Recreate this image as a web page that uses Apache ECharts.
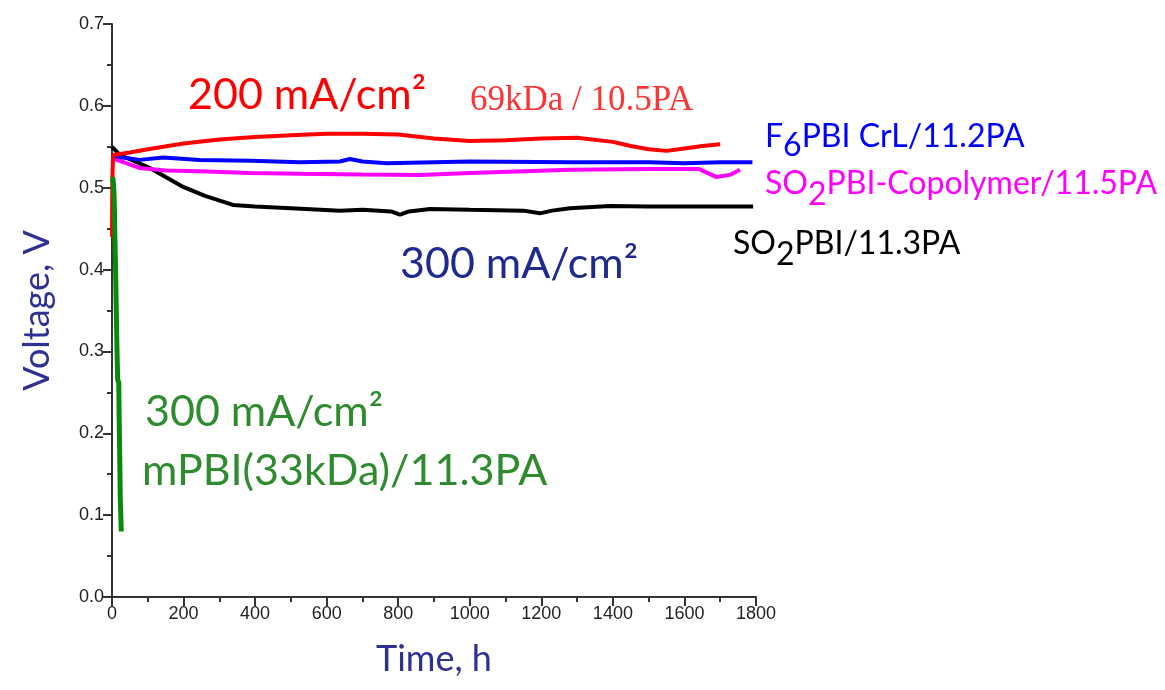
<!DOCTYPE html>
<html>
<head>
<meta charset="utf-8">
<script src="https://cdn.jsdelivr.net/npm/echarts@6/dist/echarts.min.js"></script>
<style>
  html, body { margin: 0; padding: 0; background: #fff; }
  #chart { width: 1165px; height: 690px; }
</style>
</head>
<body>
<div id="chart"></div>
<script>
// Durability runs: cell voltage (V) versus time (h)
const xTicks = [0, 200, 400, 600, 800, 1000, 1200, 1400, 1600, 1800];
const yTicks = [0.0, 0.1, 0.2, 0.3, 0.4, 0.5, 0.6, 0.7];

// 69kDa / 10.5PA at 200 mA/cm²
const redTime = [0, 1, 3, 50, 100, 200, 300, 400, 500, 600, 700, 800, 900, 1000, 1100, 1200, 1300, 1400, 1450, 1500, 1550, 1600, 1650, 1700];
const redVolt = [0.44, 0.51, 0.540, 0.543, 0.547, 0.554, 0.559, 0.562, 0.564, 0.566, 0.566, 0.565, 0.560, 0.557, 0.558, 0.560, 0.561, 0.556, 0.551, 0.547, 0.545, 0.548, 0.551, 0.553];

// F6PBI CrL / 11.2PA
const blueTime = [0, 30, 78, 143, 246, 386, 525, 637, 665, 700, 768, 1000, 1280, 1500, 1600, 1700, 1790];
const blueVolt = [0.540, 0.537, 0.534, 0.537, 0.534, 0.533, 0.531, 0.532, 0.535, 0.532, 0.530, 0.532, 0.531, 0.531, 0.530, 0.531, 0.531];

// SO2PBI-Copolymer / 11.5PA
const magentaTime = [0, 40, 78, 150, 246, 386, 525, 700, 861, 1000, 1280, 1500, 1640, 1690, 1730, 1755];
const magentaVolt = [0.536, 0.530, 0.524, 0.521, 0.520, 0.518, 0.517, 0.516, 0.5155, 0.518, 0.522, 0.523, 0.523, 0.513, 0.516, 0.522];

// SO2PBI / 11.3PA
const blackTime = [0, 22, 60, 106, 150, 199, 260, 338, 400, 500, 637, 700, 780, 805, 830, 889, 1000, 1150, 1196, 1230, 1280, 1392, 1500, 1600, 1792];
const blackVolt = [0.550, 0.540, 0.533, 0.524, 0.513, 0.501, 0.490, 0.479, 0.477, 0.475, 0.472, 0.473, 0.471, 0.467, 0.471, 0.474, 0.473, 0.472, 0.4687, 0.472, 0.475, 0.4776, 0.477, 0.477, 0.477];

// mPBI(33kDa) / 11.3PA at 300 mA/cm²
const greenTime = [2, 4, 6, 8, 10, 12, 14, 16, 19, 20, 22, 23, 25, 26];
const greenVolt = [0.513, 0.505, 0.49, 0.44, 0.40, 0.35, 0.30, 0.265, 0.262, 0.22, 0.16, 0.122, 0.12, 0.08];

const zip = (xs, ys) => xs.map((x, i) => [x, ys[i]]);

const font = 'Lato, "Open Sans", sans-serif';
const tickFont = '"Liberation Sans", Arial, sans-serif';
const chart = echarts.init(document.getElementById('chart'), null, { renderer: 'canvas' });

function line(name, xs, ys, color, width) {
  return {
    name, type: 'line', data: zip(xs, ys), showSymbol: false, symbol: 'none',
    lineStyle: { color, width }, clip: true, animation: false, z: 3
  };
}

// label with a lowered (subscript-style) token
function subLabel(x, y, pre, sub, post, color, size, drop) {
  const base = { fontSize: size, fontFamily: font, fill: color, verticalAlign: 'top' };
  return {
    type: 'text', x, y,
    style: {
      text: `{m|${pre}}{s|${sub}}{m|${post}}`, fill: color, font: size + 'px ' + font,
      rich: { m: base, s: Object.assign({}, base, { padding: [drop, 0, 0, 0] }) }
    }
  };
}

const axisCommon = {
  axisLine: { show: true, lineStyle: { color: '#333', width: 2 } },
  axisTick: { show: true, length: 9, lineStyle: { color: '#333', width: 2 } },
  minorTick: { show: true, splitNumber: 2, length: 5, lineStyle: { color: '#333', width: 2 } },
  splitLine: { show: false },
  minorSplitLine: { show: false }
};

chart.setOption({
  animation: false,
  backgroundColor: '#fff',
  grid: { left: 112, right: 409, top: 24, bottom: 93 },
  xAxis: Object.assign({
    type: 'value', min: 0, max: 1800, interval: 200,
    name: 'Time, h', nameLocation: 'middle', nameGap: 44,
    nameTextStyle: { color: '#2e3192', fontSize: 36, fontFamily: font },
    axisLabel: { color: '#222', fontSize: 18, fontFamily: tickFont, margin: 8,
      formatter: v => xTicks.includes(v) ? String(v) : '' }
  }, axisCommon),
  yAxis: Object.assign({
    type: 'value', min: 0, max: 0.7, interval: 0.1,
    name: 'Voltage, V', nameLocation: 'middle', nameGap: 57, nameRotate: 90,
    nameTextStyle: { color: '#2e3192', fontSize: 36, fontFamily: font },
    axisLabel: { color: '#222', fontSize: 18, fontFamily: tickFont, margin: 8,
      formatter: v => yTicks[Math.round(v * 10)].toFixed(1) }
  }, axisCommon),
  series: [
    line('SO2PBI/11.3PA', blackTime, blackVolt, '#000000', 4),
    line('SO2PBI-Copolymer/11.5PA', magentaTime, magentaVolt, '#ff00ff', 4),
    line('F6PBI CrL/11.2PA', blueTime, blueVolt, '#0000ff', 4),
    line('69kDa / 10.5PA', redTime, redVolt, '#ff0000', 4),
    line('mPBI(33kDa)/11.3PA', greenTime, greenVolt, '#0a8a0a', 5)
  ],
  graphic: [
    { type: 'text', x: 188, y: 95, style: { text: '200 mA/cm²', fill: '#ff0000', font: '43px ' + font, verticalAlign: 'middle' } },
    { type: 'text', x: 470, y: 101, style: { text: '69kDa / 10.5PA', fill: '#ff3333', font: '35px "Liberation Serif", serif', verticalAlign: 'middle' } },
    subLabel(765, 121, 'F', '6', 'PBI CrL/11.2PA', '#0000ff', 32, 9),
    subLabel(765, 168, 'SO', '2', 'PBI-Copolymer/11.5PA', '#ff00ff', 32, 11),
    subLabel(733, 228, 'SO', '2', 'PBI/11.3PA', '#000000', 32, 11),
    { type: 'text', x: 400, y: 264, style: { text: '300 mA/cm²', fill: '#1f2a8f', font: '43px ' + font, verticalAlign: 'middle' } },
    { type: 'text', x: 145, y: 412, style: { text: '300 mA/cm²', fill: '#2e8b2e', font: '43px ' + font, verticalAlign: 'middle' } },
    { type: 'text', x: 142, y: 471, style: { text: 'mPBI(33kDa)/11.3PA', fill: '#2e8b2e', font: '43px ' + font, verticalAlign: 'middle' } }
  ]
});
</script>
</body>
</html>
